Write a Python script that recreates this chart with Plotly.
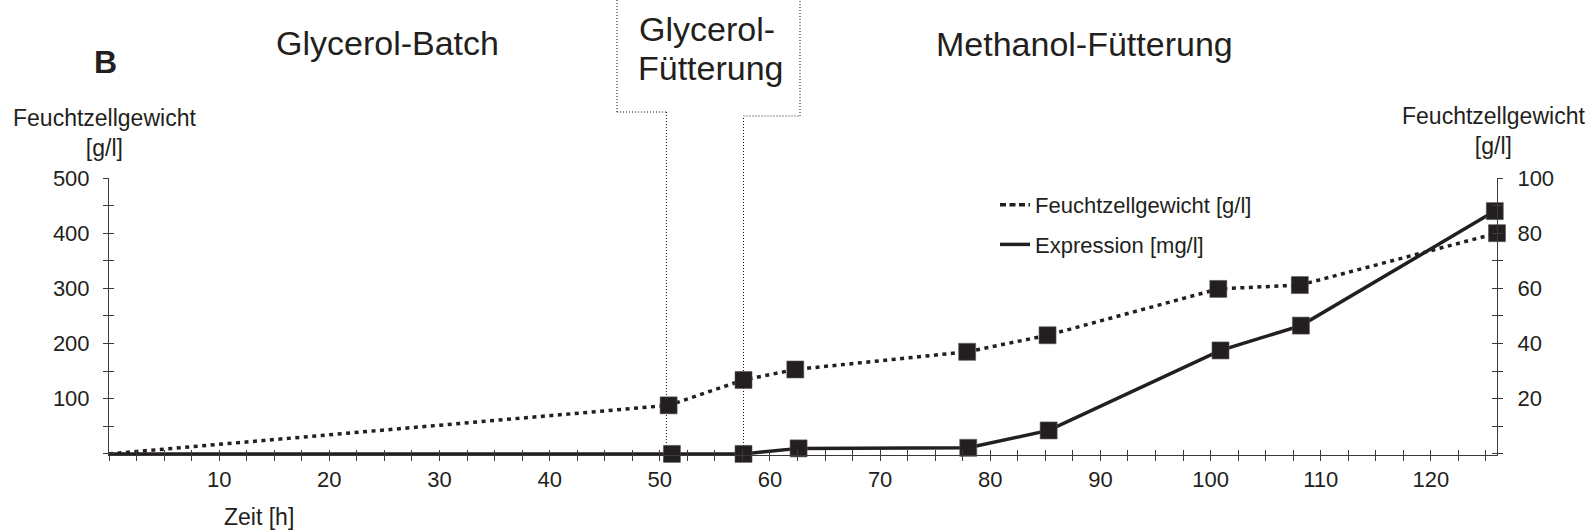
import plotly.graph_objects as go

# ---------------- data ----------------
zeit_fzg = [0, 50.8, 57.6, 62.3, 77.9, 85.2, 100.7, 108.1, 126.0]
feuchtzellgewicht = [0, 88, 134, 153, 185, 215, 299, 306, 400]

zeit_expr = [0, 51.1, 57.6, 62.6, 78.0, 85.3, 100.9, 108.2, 125.8]
expression = [0, 0, 0, 2.0, 2.2, 8.5, 37.5, 46.5, 88]

phase_grenzen = [50.6, 57.6]          # Glycerol-Batch | Glycerol-Fütterung | Methanol-Fütterung
phase_namen = ["Glycerol-Batch", "Glycerol-", "Fütterung", "Methanol-Fütterung"]

x_tick_vals = [10, 20, 30, 40, 50, 60, 70, 80, 90, 100, 110, 120]
y_left_tick_vals = [100, 200, 300, 400, 500]
y_right_tick_vals = [20, 40, 60, 80, 100]

serien_namen = ["Feuchtzellgewicht [g/l]", "Expression [mg/l]"]

# ---------------- layout geometry ----------------
W, H = 1590, 532
PX_LEFT, PX_RIGHT, PX_TOP, PX_BOTTOM = 109, 1497, 178, 455
X_RANGE = [0, 126]
Y1_RANGE = [-2, 500]
Y2_RANGE = [-0.4, 100]

FONT = "Liberation Sans, Arial, sans-serif"
INK = "#231f20"
AXIS = "#3a3a3a"


def pxx(px):
    return (px - PX_LEFT) / (PX_RIGHT - PX_LEFT)


def pxy(py):
    return (PX_BOTTOM - py) / (PX_BOTTOM - PX_TOP)


def datx(v):
    return (v - X_RANGE[0]) / (X_RANGE[1] - X_RANGE[0])


fig = go.Figure()

# data traces
fig.add_trace(go.Scatter(x=zeit_fzg, y=feuchtzellgewicht, mode="lines",
                         line=dict(color=INK, width=3.5, dash="4px,4.5px"),
                         showlegend=False, hoverinfo="skip"))
fig.add_trace(go.Scatter(x=zeit_fzg[1:], y=feuchtzellgewicht[1:], mode="markers",
                         marker=dict(symbol="square", size=17, color=INK,
                                     line=dict(color="#5a5654", width=0.6)),
                         showlegend=False, cliponaxis=False))
fig.add_trace(go.Scatter(x=zeit_expr, y=expression, mode="lines", yaxis="y2",
                         line=dict(color=INK, width=3.5),
                         showlegend=False, hoverinfo="skip"))
fig.add_trace(go.Scatter(x=zeit_expr[1:], y=expression[1:], mode="markers", yaxis="y2",
                         marker=dict(symbol="square", size=17, color=INK,
                                     line=dict(color="#5a5654", width=0.6)),
                         showlegend=False, cliponaxis=False))

# legend entries (line only, as in the original)
fig.add_trace(go.Scatter(x=[None], y=[None], mode="lines", name=serien_namen[0],
                         legendgroup="a",
                         line=dict(color=INK, width=3.5, dash="6px,3.5px")))
fig.add_trace(go.Scatter(x=[None], y=[None], mode="lines", name=serien_namen[1],
                         legendgroup="b", yaxis="y2",
                         line=dict(color=INK, width=3.5)))

# dummy traces so the tick-crossing overlay axes render
fig.add_trace(go.Scatter(x=[None], y=[None], xaxis="x2", yaxis="y3", showlegend=False,
                         hoverinfo="skip"))
fig.add_trace(go.Scatter(x=[None], y=[None], xaxis="x2", yaxis="y4", showlegend=False,
                         hoverinfo="skip"))

tickfont = dict(family=FONT, size=22, color=INK)

fig.update_layout(
    width=W, height=H,
    margin=dict(l=PX_LEFT, r=W - PX_RIGHT, t=PX_TOP, b=H - PX_BOTTOM, pad=0),
    paper_bgcolor="white", plot_bgcolor="rgba(0,0,0,0)",
    font=dict(family=FONT, size=22, color=INK),
    xaxis=dict(range=X_RANGE, showgrid=False, zeroline=False, showline=True,
               linecolor=AXIS, linewidth=1, ticks="outside", ticklen=5,
               tickcolor=AXIS, tickwidth=1, tickvals=x_tick_vals, tickfont=tickfont,
               ticklabelstandoff=0,
               minor=dict(dtick=2.5, tick0=0, ticks="outside", ticklen=5,
                          tickcolor=AXIS, tickwidth=1),
               anchor="y"),
    xaxis2=dict(range=X_RANGE, overlaying="x", side="bottom", anchor="y",
                showgrid=False, zeroline=False, showline=False, ticks="inside",
                ticklen=5, tickcolor=AXIS, tickwidth=1, tickvals=x_tick_vals,
                showticklabels=False,
                minor=dict(dtick=2.5, tick0=0, ticks="inside", ticklen=5,
                           tickcolor=AXIS, tickwidth=1)),
    yaxis=dict(range=Y1_RANGE, showgrid=False, zeroline=False, showline=True,
               linecolor=AXIS, linewidth=1, ticks="outside", ticklen=5,
               tickcolor=AXIS, tickwidth=1, tickvals=y_left_tick_vals,
               tickfont=tickfont, ticklabelstandoff=9,
               minor=dict(dtick=50, tick0=0, ticks="outside", ticklen=5,
                          tickcolor=AXIS, tickwidth=1)),
    yaxis2=dict(range=Y2_RANGE, overlaying="y", side="right", anchor="x",
                showgrid=False, zeroline=False, showline=True,
                linecolor=AXIS, linewidth=1, ticks="outside", ticklen=5,
                tickcolor=AXIS, tickwidth=1, tickvals=y_right_tick_vals,
                tickfont=tickfont, ticklabelstandoff=10,
                minor=dict(dtick=10, tick0=0, ticks="outside", ticklen=5,
                           tickcolor=AXIS, tickwidth=1)),
    yaxis3=dict(range=Y1_RANGE, overlaying="y", side="left", anchor="x2",
                showgrid=False, zeroline=False, showline=False, ticks="inside",
                ticklen=5, tickcolor=AXIS, tickwidth=1, tickvals=y_left_tick_vals,
                showticklabels=False,
                minor=dict(dtick=50, tick0=0, ticks="inside", ticklen=5,
                           tickcolor=AXIS, tickwidth=1)),
    yaxis4=dict(range=Y2_RANGE, overlaying="y", side="right", anchor="x2",
                showgrid=False, zeroline=False, showline=False, ticks="inside",
                ticklen=5, tickcolor=AXIS, tickwidth=1, tickvals=y_right_tick_vals,
                showticklabels=False,
                minor=dict(dtick=10, tick0=0, ticks="inside", ticklen=5,
                           tickcolor=AXIS, tickwidth=1)),
    legend=dict(x=pxx(995), y=pxy(184), xanchor="left", yanchor="top",
                bgcolor="rgba(0,0,0,0)", font=dict(family=FONT, size=22, color=INK),
                traceorder="grouped", tracegroupgap=8),
    showlegend=True,
)

# phase boundary box (dotted)
dline = dict(color="#111111", width=1, dash="1px,2px")
shapes = []
g1, g2 = datx(phase_grenzen[0]), datx(phase_grenzen[1])
box_l, box_r = pxx(617), pxx(800)
yb1, yb2, ytop = pxy(112), pxy(116), pxy(0)
shapes += [
    dict(type="line", xref="paper", yref="paper", x0=g1, x1=g1, y0=0, y1=yb1, line=dline, layer="below"),
    dict(type="line", xref="paper", yref="paper", x0=box_l, x1=g1, y0=yb1, y1=yb1, line=dline, layer="below"),
    dict(type="line", xref="paper", yref="paper", x0=box_l, x1=box_l, y0=yb1, y1=ytop, line=dline, layer="below"),
    dict(type="line", xref="paper", yref="paper", x0=g2, x1=g2, y0=0, y1=yb2, line=dline, layer="below"),
    dict(type="line", xref="paper", yref="paper", x0=g2, x1=box_r, y0=yb2, y1=yb2, line=dline, layer="below"),
    dict(type="line", xref="paper", yref="paper", x0=box_r, x1=box_r, y0=yb2, y1=ytop, line=dline, layer="below"),
]
fig.update_layout(shapes=shapes)

ann = []


def add_text(text, px, py, size, bold=False):
    ann.append(dict(text=("<b>%s</b>" % text) if bold else text, xref="paper", yref="paper",
                    x=pxx(px), y=pxy(py), xanchor="center", yanchor="middle",
                    showarrow=False, font=dict(family=FONT, size=size, color=INK)))


add_text("B", 105.5, 62, 32, bold=True)
add_text(phase_namen[0], 387.5, 43, 34)
add_text(phase_namen[1], 707, 29, 34)
add_text(phase_namen[2], 711, 68, 34)
add_text(phase_namen[3], 1084, 44, 34)
add_text("Feuchtzellgewicht<br>[g/l]", 104.7, 133, 23)
add_text("Feuchtzellgewicht<br>[g/l]", 1493, 131, 23)
add_text("Zeit [h]", 259, 517, 23)
fig.update_layout(annotations=ann)

fig.write_html("out.html")
